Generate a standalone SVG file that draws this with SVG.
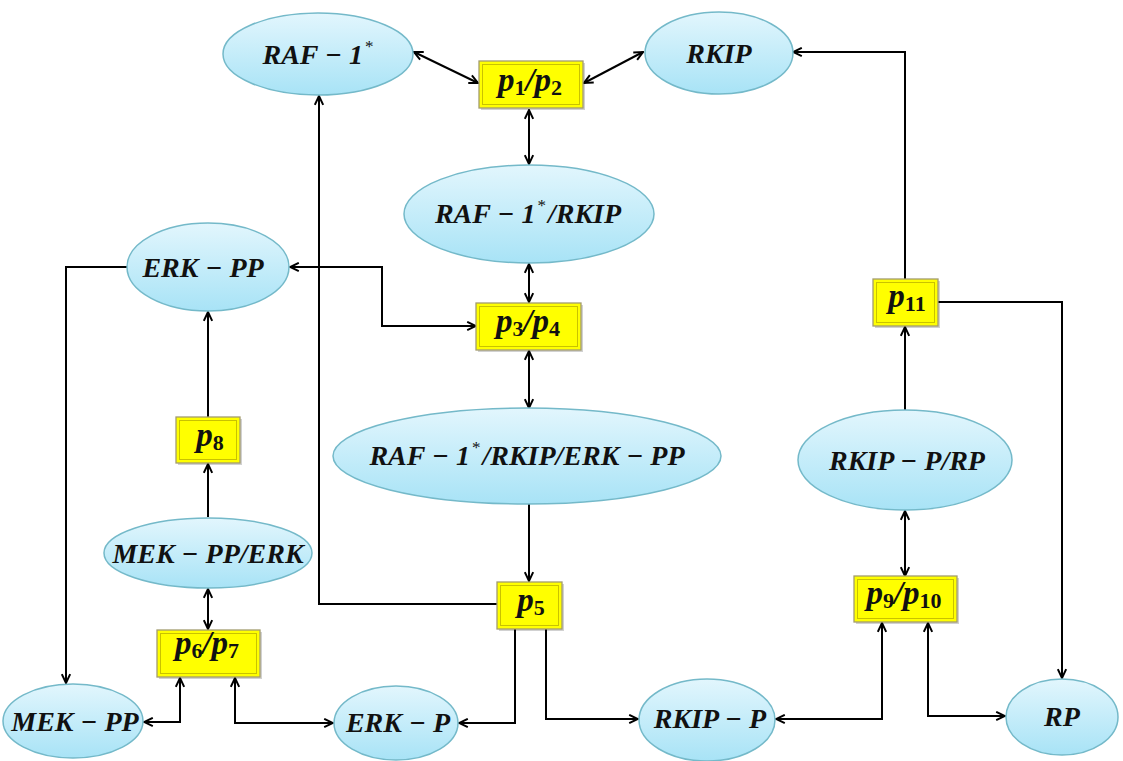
<svg xmlns="http://www.w3.org/2000/svg" width="1123" height="761" viewBox="0 0 1123 761">
  <style>
    .node ellipse { fill: url(#blueFill); stroke: #74b9c9; stroke-width: 1.5; }
    .box .outer { fill: #ffff00; stroke: #a39c6e; stroke-width: 1.3; }
    .box .inner { fill: none; stroke: #c9c200; stroke-width: 1; }
    .box .shade { fill: #000; opacity: 0.18; }
    text { font-family: "Liberation Serif", "Times New Roman", serif; font-weight: bold; font-style: italic; font-size: 28px; fill: #111; text-anchor: middle; }
    .box text { font-size: 33px; }
    .sub { font-size: 22px; font-style: normal; }
    .sup { font-size: 17px; font-style: normal; font-weight: normal; }
    #connectors path { fill: none; stroke: #000; stroke-width: 2; }
  </style>
  <defs>
    <linearGradient id="blueFill" x1="0" y1="0" x2="0" y2="1">
      <stop offset="0" stop-color="#e2f6fd"/>
      <stop offset="1" stop-color="#a8e3f6"/>
    </linearGradient>
    <marker id="ah" viewBox="0 0 10 10" refX="9" refY="5" markerWidth="11" markerHeight="11" markerUnits="userSpaceOnUse" orient="auto-start-reverse">
      <path d="M1,1.2 L9,5 L1,8.8" fill="none" stroke="#000" stroke-width="1.8"/>
    </marker>
  </defs>

  <!-- connectors -->
  <g id="connectors">
    <path d="M414,52 L478,83" marker-start="url(#ah)" marker-end="url(#ah)"/>
    <path d="M643,52 L584,83" marker-start="url(#ah)" marker-end="url(#ah)"/>
    <path d="M529,110 V164" marker-start="url(#ah)" marker-end="url(#ah)"/>
    <path d="M529,264 V302" marker-start="url(#ah)" marker-end="url(#ah)"/>
    <path d="M529,351 V408" marker-start="url(#ah)" marker-end="url(#ah)"/>
    <path d="M290,267 H382 V326 H476" marker-start="url(#ah)" marker-end="url(#ah)"/>
    <path d="M127,267 H66 V683" marker-end="url(#ah)"/>
    <path d="M208,417 V312" marker-end="url(#ah)"/>
    <path d="M208,517 V464" marker-end="url(#ah)"/>
    <path d="M208,589 V629" marker-start="url(#ah)" marker-end="url(#ah)"/>
    <path d="M180,678 V722 H144" marker-start="url(#ah)" marker-end="url(#ah)"/>
    <path d="M235,678 V723 H333" marker-start="url(#ah)" marker-end="url(#ah)"/>
    <path d="M529,504 V581" marker-end="url(#ah)"/>
    <path d="M497,604 H319 V96" marker-end="url(#ah)"/>
    <path d="M515,629 V723 H459" marker-end="url(#ah)"/>
    <path d="M546,629 V719 H638" marker-end="url(#ah)"/>
    <path d="M776,719 H882 V623" marker-start="url(#ah)" marker-end="url(#ah)"/>
    <path d="M928,623 V716 H1005" marker-start="url(#ah)" marker-end="url(#ah)"/>
    <path d="M905,511 V576" marker-start="url(#ah)" marker-end="url(#ah)"/>
    <path d="M905,410 V327" marker-end="url(#ah)"/>
    <path d="M905,279 V52 H793" marker-end="url(#ah)"/>
    <path d="M938,302 H1062 V678" marker-end="url(#ah)"/>
  </g>

  <!-- species -->
  <g id="raf1" class="node">
    <ellipse cx="318" cy="54" rx="95" ry="41"/>
    <text x="318" y="64">RAF − 1<tspan class="sup" dx="2" dy="-12">*</tspan></text>
  </g>
  <g id="rkip" class="node">
    <ellipse cx="719" cy="53" rx="74" ry="41"/>
    <text x="719" y="63">RKIP</text>
  </g>
  <g id="raf1-rkip" class="node">
    <ellipse cx="529" cy="214" rx="125" ry="49"/>
    <text x="528" y="223">RAF − 1<tspan class="sup" dx="2" dy="-12">*</tspan><tspan dx="2" dy="12">/RKIP</tspan></text>
  </g>
  <g id="erk-pp" class="node">
    <ellipse cx="208" cy="267" rx="81" ry="44"/>
    <text x="203" y="277">ERK − PP</text>
  </g>
  <g id="raf1-rkip-erkpp" class="node">
    <ellipse cx="527" cy="456" rx="194" ry="48"/>
    <text x="527" y="465">RAF − 1<tspan class="sup" dx="2" dy="-12">*</tspan><tspan dx="2" dy="12">/RKIP/ERK − PP</tspan></text>
  </g>
  <g id="mekpp-erk" class="node">
    <ellipse cx="208" cy="553" rx="104" ry="35"/>
    <text x="208" y="563">MEK − PP/ERK</text>
  </g>
  <g id="mek-pp" class="node">
    <ellipse cx="73" cy="721" rx="70" ry="37"/>
    <text x="75" y="731">MEK − PP</text>
  </g>
  <g id="erk-p" class="node">
    <ellipse cx="396" cy="723" rx="62" ry="37"/>
    <text x="398" y="732">ERK − P</text>
  </g>
  <g id="rkip-p" class="node">
    <ellipse cx="707" cy="720" rx="68" ry="41"/>
    <text x="710" y="728">RKIP − P</text>
  </g>
  <g id="rp" class="node">
    <ellipse cx="1062" cy="717" rx="56" ry="38"/>
    <text x="1062" y="726">RP</text>
  </g>
  <g id="rkipp-rp" class="node">
    <ellipse cx="905" cy="460" rx="107" ry="50"/>
    <text x="907" y="470">RKIP − P/RP</text>
  </g>

  <!-- reactions -->
  <g id="p1p2" class="box">
    <rect class="shade" x="481" y="63" width="104" height="47"/>
    <rect class="outer" x="479" y="61" width="104" height="47"/>
    <rect class="inner" x="482.5" y="64.5" width="97" height="40"/>
    <text x="530" y="91">p<tspan class="sub" dy="4">1</tspan><tspan dy="-4">/p</tspan><tspan class="sub" dy="4">2</tspan></text>
  </g>
  <g id="p3p4" class="box">
    <rect class="shade" x="478" y="305" width="105" height="47"/>
    <rect class="outer" x="476" y="303" width="105" height="47"/>
    <rect class="inner" x="479.5" y="306.5" width="98" height="40"/>
    <text x="528" y="332">p<tspan class="sub" dy="4">3</tspan><tspan dy="-4">/p</tspan><tspan class="sub" dy="4">4</tspan></text>
  </g>
  <g id="p5" class="box">
    <rect class="shade" x="499" y="584" width="65" height="47"/>
    <rect class="outer" x="497" y="582" width="65" height="47"/>
    <rect class="inner" x="500.5" y="585.5" width="58" height="40"/>
    <text x="531" y="611">p<tspan class="sub" dy="4">5</tspan></text>
  </g>
  <g id="p6p7" class="box">
    <rect class="shade" x="159" y="632" width="103" height="47"/>
    <rect class="outer" x="157" y="630" width="103" height="47"/>
    <rect class="inner" x="160.5" y="633.5" width="96" height="40"/>
    <text x="207" y="654">p<tspan class="sub" dy="4">6</tspan><tspan dy="-4">/p</tspan><tspan class="sub" dy="4">7</tspan></text>
  </g>
  <g id="p8" class="box">
    <rect class="shade" x="178" y="419" width="64" height="46"/>
    <rect class="outer" x="176" y="417" width="64" height="46"/>
    <rect class="inner" x="179.5" y="420.5" width="57" height="39"/>
    <text x="210" y="446">p<tspan class="sub" dy="4">8</tspan></text>
  </g>
  <g id="p9p10" class="box">
    <rect class="shade" x="856" y="578" width="103" height="46"/>
    <rect class="outer" x="854" y="576" width="103" height="46"/>
    <rect class="inner" x="857.5" y="579.5" width="96" height="39"/>
    <text x="904" y="604">p<tspan class="sub" dy="4">9</tspan><tspan dy="-4">/p</tspan><tspan class="sub" dy="4">10</tspan></text>
  </g>
  <g id="p11" class="box">
    <rect class="shade" x="875" y="281" width="65" height="47"/>
    <rect class="outer" x="873" y="279" width="65" height="47"/>
    <rect class="inner" x="876.5" y="282.5" width="58" height="40"/>
    <text x="907" y="307">p<tspan class="sub" dy="4">11</tspan></text>
  </g>
</svg>
